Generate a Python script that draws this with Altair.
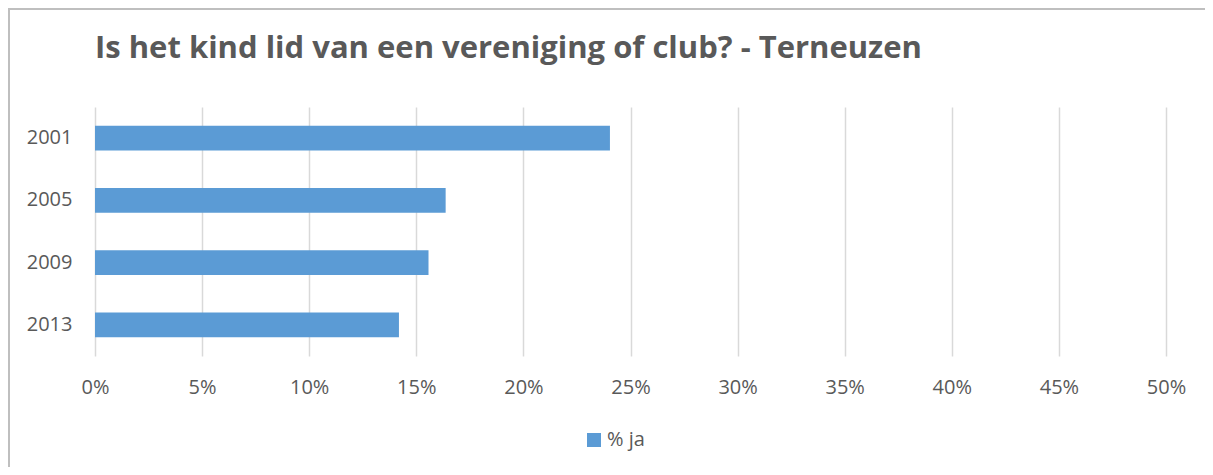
import altair as alt
import pandas as pd

years = ["2001", "2005", "2009", "2013"]
share_ja = [0.2404, 0.1637, 0.1557, 0.1419]
series_name = ["% ja"] * 4
tick_values = [0, 0.05, 0.10, 0.15, 0.20, 0.25, 0.30, 0.35, 0.40, 0.45, 0.50]

df = pd.DataFrame({"jaar": years, "aandeel": share_ja, "reeks": series_name})

W, H = 1071, 249
PAD = {"left": 87, "top": 99, "right": 39, "bottom": 111}
FONT = "Open Sans"
GREY = "#595959"

bars = alt.Chart(df).mark_bar(color="#5b9bd5").encode(
    y=alt.Y("jaar:N", sort=years, title=None,
            scale=alt.Scale(paddingInner=0.6, paddingOuter=0.3),
            axis=alt.Axis(domain=False, ticks=False, grid=False,
                          labelFont=FONT, labelFontSize=20, labelColor=GREY,
                          labelPadding=23)),
    x=alt.X("aandeel:Q", title=None,
            scale=alt.Scale(domain=[0, 0.5], nice=False),
            axis=alt.Axis(values=tick_values, format=".0%", domain=False, ticks=False,
                          grid=True, gridColor="#d9d9d9", gridWidth=1.5,
                          labelFont=FONT, labelFontSize=20, labelColor=GREY,
                          labelPadding=21, labelBaseline="top", labelFlush=False,
                          labelOverlap=False)),
    color=alt.Color("reeks:N", title=None,
                    scale=alt.Scale(domain=["% ja"], range=["#5b9bd5"]),
                    legend=alt.Legend(orient="none", legendX=489, legendY=323,
                                      symbolType="square", symbolSize=196,
                                      symbolStrokeWidth=0, padding=0,
                                      labelFont=FONT, labelFontSize=20,
                                      labelColor=GREY, labelOffset=3)),
)

border_df = pd.DataFrame({"b": [0]})
left_border = alt.Chart(border_df).mark_rule(color="#bfbfbf", strokeWidth=2).encode(
    x=alt.value(-86), y=alt.value(-98), y2=alt.value(H + PAD["bottom"]))
top_border = alt.Chart(border_df).mark_rule(color="#bfbfbf", strokeWidth=2).encode(
    x=alt.value(-87), x2=alt.value(W + PAD["right"]), y=alt.value(-98))

chart = alt.layer(bars, left_border, top_border).properties(
    width=W, height=H,
    padding=PAD,
    autosize=alt.AutoSizeParams(type="none"),
    title=alt.Title("Is het kind lid van een vereniging of club? - Terneuzen",
                    anchor="start", frame="group", font=FONT, fontSize=31,
                    fontWeight="bold", color=GREY, baseline="alphabetic", offset=-81),
).configure(background="white").configure_view(strokeWidth=0, stroke="transparent")

chart.save("out.html", embed_options={"renderer": "svg", "actions": False})
